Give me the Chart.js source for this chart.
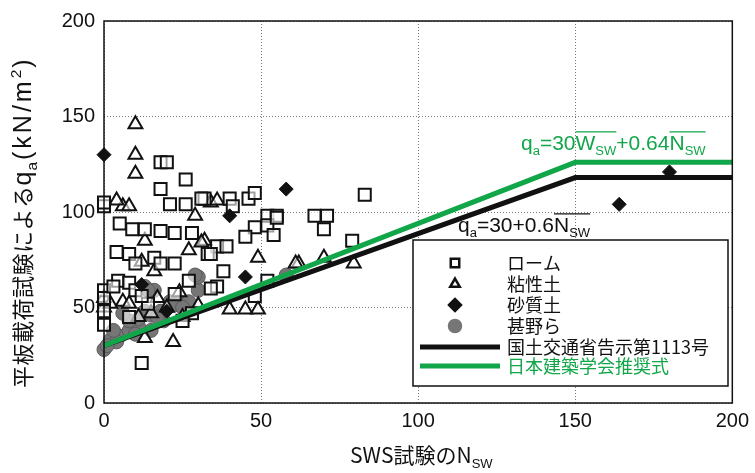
<!DOCTYPE html>
<html>
<head>
<meta charset="utf-8">
<script src="https://cdn.jsdelivr.net/npm/chart.js@4/dist/chart.umd.min.js"></script>
<style>
  body { margin: 0; background: #fff; }
</style>
</head>
<body>
<canvas id="swsChart" width="755" height="473"></canvas>
<script>
// ---- data ----
const xTicks = [0, 50, 100, 150, 200];
const yTicks = [0, 50, 100, 150, 200];

// ローム (open squares)
const loamX = [0, 0, 0, 0, 0, 0, 18, 20, 26, 18, 32, 21, 26, 31, 40, 41, 46, 48, 52, 55, 52, 83, 67, 71, 70, 54, 55, 79, 48, 45,
  36, 39, 33, 38, 36, 48, 52, 4, 8, 10, 4.5, 8, 10, 9, 13, 18, 22.5, 28, 16, 18, 22.5, 27, 34, 34, 22.5, 5, 12, 3, 14, 28, 25, 8, 12];
const loamY = [103, 105, 59, 55, 48, 41, 126, 126, 117, 112, 107, 104, 104, 107, 107, 103, 107, 110, 98, 98, 93, 109, 98, 98, 91, 88, 97, 85, 92, 87,
  82, 82, 78, 69, 61, 56, 64, 79, 78, 73, 64, 63, 59, 91, 91, 90, 89, 89, 76, 73, 73, 64, 60, 78, 57, 94, 21, 61, 52, 47, 43, 45, 56];

// 粘性土 (open triangles)
const clayX = [10, 10, 10, 6, 8, 4, 34, 36, 29, 62, 70, 79.5, 32, 49, 40, 45, 49, 61, 13, 31, 6, 8, 13, 22, 12, 0, 0, 2, 15, 20, 25, 30, 24, 17, 11, 16, 27];
const clayY = [146, 130, 120, 103, 103, 106, 105, 106, 98, 73, 76, 73, 85, 76, 49, 49, 49, 73, 85, 84, 53, 52, 34, 32, 74, 50, 55, 52, 47, 50, 45, 51, 58, 55, 45, 69, 80];

// 砂質土 (filled diamonds)
const sandX = [0, 40, 58, 180, 164, 45, 12, 20];
const sandY = [130, 98, 112, 121, 104, 66, 62, 48];

// 甚野ら (grey circles)
const jinnoX = [0, 2, 5, 8, 11, 15, 18, 21, 16, 13, 24, 27, 30, 30, 22, 19, 15, 11, 8, 6, 29, 14, 58, 13, 17, 25, 10, 4, 1, 3];
const jinnoY = [28, 33, 35, 38, 40, 46, 48, 53, 59, 61, 53, 53, 59, 66, 51, 43, 38, 44, 43, 47, 67, 59, 67, 48, 45, 50, 36, 32, 30, 38];

// design lines
const lineX = [0, 150, 200];
const kokujiY = [30, 118, 118];   // 国土交通省告示第1113号
const aijY = [30, 126, 126];      // 日本建築学会推奨式

const GREEN = '#12a64a';
const GREY = '#767676';
const NUM_FONT = '"Liberation Sans", Arial, sans-serif';
const JP_FONT = '"Noto Sans CJK JP", "Liberation Sans", sans-serif';

const pts = (xs, ys) => xs.map((x, i) => ({ x: x, y: ys[i] }));

// draw a run of text parts (sub = subscript, sup = superscript, over = overline)
function drawRich(ctx, x, y, parts, size, color) {
  ctx.save();
  ctx.fillStyle = color;
  ctx.strokeStyle = color;
  ctx.textBaseline = 'alphabetic';
  ctx.textAlign = 'left';
  let cx = x;
  let overStart = null;
  parts.forEach(function (p) {
    const base = p.size || size;
    const s = (p.sub || p.sup) ? base * 0.62 : base;
    ctx.font = s + 'px ' + (p.jp ? JP_FONT : NUM_FONT);
    const dy = p.sub ? base * 0.22 : (p.sup ? -base * 0.42 : 0);
    if (p.over && overStart === null) overStart = cx;
    const gap = p.gap || 0;
    for (const ch of p.t) {
      ctx.fillText(ch, cx, y + dy);
      cx += ctx.measureText(ch).width + gap;
    }
    if (p.endOver) {
      ctx.lineWidth = 1.2;
      ctx.beginPath();
      ctx.moveTo(overStart, y - size * 0.86);
      ctx.lineTo(cx, y - size * 0.86);
      ctx.stroke();
      overStart = null;
    }
  });
  ctx.restore();
  return cx;
}

const decorations = {
  id: 'decorations',
  beforeDraw(chart) {
    const ctx = chart.ctx;
    ctx.save();
    ctx.fillStyle = '#fff';
    ctx.fillRect(0, 0, chart.width, chart.height);
    ctx.restore();
  },
  afterDraw(chart) {
    const ctx = chart.ctx;
    const a = chart.chartArea;

    // plot frame
    ctx.save();
    ctx.strokeStyle = '#111';
    ctx.lineWidth = 1.5;
    ctx.strokeRect(a.left, a.top, a.right - a.left, a.bottom - a.top);
    ctx.restore();

    // formula labels
    drawRich(ctx, 521, 150, [
      { t: 'q' }, { t: 'a', sub: true }, { t: '=30' },
      { t: 'W', over: true }, { t: 'SW', sub: true, endOver: true },
      { t: '+0.64' },
      { t: 'N', over: true }, { t: 'SW', sub: true, endOver: true }
    ], 21, GREEN);
    drawRich(ctx, 458, 232, [
      { t: 'q' }, { t: 'a', sub: true }, { t: '=30+0.6' },
      { t: 'N', over: true }, { t: 'SW', sub: true, endOver: true }
    ], 21, '#111');

    // legend box
    const lx = 413, ly = 240, lw = 315, lh = 146;
    ctx.save();
    ctx.fillStyle = '#fff';
    ctx.fillRect(lx, ly, lw, lh);
    ctx.strokeStyle = '#111';
    ctx.lineWidth = 1.5;
    ctx.strokeRect(lx, ly, lw, lh);
    ctx.restore();

    const symX = 455, textX = 507;
    const rows = [
      { y: 263, style: 'rect', r: 6, fill: '#fff', stroke: '#111', label: 'ローム' },
      { y: 284, style: 'triangle', r: 5.5, fill: '#fff', stroke: '#111', label: '粘性土' },
      { y: 305, style: 'rectRot', r: 6, fill: '#111', stroke: '#111', label: '砂質土' },
      { y: 326, style: 'circle', r: 6, fill: GREY, stroke: GREY, label: '甚野ら' }
    ];
    rows.forEach(function (r) {
      ctx.save();
      ctx.fillStyle = r.fill;
      ctx.strokeStyle = r.stroke;
      ctx.lineWidth = 2.5;
      Chart.helpers.drawPoint(ctx, { pointStyle: r.style, radius: r.r, rotation: 0, borderWidth: 2.5 }, symX, r.y);
      ctx.restore();
    });
    const lineRows = [
      { y: 347, color: '#111', label: '国土交通省告示第1113号' },
      { y: 366, color: GREEN, label: '日本建築学会推奨式' }
    ];
    ctx.save();
    ctx.lineWidth = 5;
    lineRows.forEach(function (r) {
      ctx.strokeStyle = r.color;
      ctx.beginPath();
      ctx.moveTo(420, r.y);
      ctx.lineTo(500, r.y);
      ctx.stroke();
    });
    ctx.font = '18px ' + JP_FONT;
    ctx.textBaseline = 'middle';
    ctx.fillStyle = '#111';
    rows.forEach(function (r) { ctx.fillText(r.label, textX, r.y); });
    lineRows.forEach(function (r) {
      ctx.fillStyle = r.color;
      ctx.fillText(r.label, textX, r.y);
    });
    ctx.restore();

    // x axis title
    drawRich(ctx, 350, 463, [{ t: 'SWS試験のN', jp: true }, { t: 'SW', sub: true }], 21, '#111');

    // y axis title (rotated)
    ctx.save();
    ctx.translate(31, 388);
    ctx.rotate(-Math.PI / 2);
    drawRich(ctx, 0, 0, [
      { t: '平板載荷試験による', jp: true, size: 22, gap: 0.5 },
      { t: 'q', size: 25, gap: 1 },
      { t: 'a', sub: true, size: 25, gap: 2 },
      { t: '(kN/m', size: 25, gap: 3 },
      { t: '2', sup: true, size: 25, gap: 2 },
      { t: ')', size: 25 }
    ], 22, '#111');
    ctx.restore();
  }
};

const config = {
  type: 'scatter',
  data: {
    datasets: [
      {
        label: '日本建築学会推奨式',
        data: pts(lineX, aijY),
        showLine: true,
        borderColor: GREEN,
        borderWidth: 5,
        pointRadius: 0,
        fill: false
      },
      {
        label: '国土交通省告示第1113号',
        data: pts(lineX, kokujiY),
        showLine: true,
        borderColor: '#111',
        borderWidth: 5,
        pointRadius: 0,
        fill: false
      },
      {
        label: '砂質土',
        data: pts(sandX, sandY),
        clip: false,
        pointStyle: 'rectRot',
        pointRadius: 7,
        backgroundColor: '#111',
        borderColor: '#111',
        borderWidth: 1
      },
      {
        label: 'ローム',
        data: pts(loamX, loamY),
        clip: false,
        pointStyle: 'rect',
        pointRadius: 8.5,
        backgroundColor: 'rgba(255,255,255,0.6)',
        borderColor: '#111',
        borderWidth: 2
      },
      {
        label: '粘性土',
        data: pts(clayX, clayY),
        clip: false,
        pointStyle: 'triangle',
        pointRadius: 8,
        backgroundColor: 'rgba(255,255,255,0.6)',
        borderColor: '#111',
        borderWidth: 2
      },
      {
        label: '甚野ら',
        data: pts(jinnoX, jinnoY),
        clip: false,
        pointStyle: 'circle',
        pointRadius: 7,
        backgroundColor: GREY,
        borderColor: '#5a5a5a',
        borderWidth: 1
      }
    ]
  },
  options: {
    responsive: false,
    animation: false,
    events: [],
    layout: { padding: { left: 0, right: 20, top: 17, bottom: 0 } },
    plugins: {
      legend: { display: false },
      tooltip: { enabled: false }
    },
    scales: {
      x: {
        type: 'linear',
        min: 0,
        max: 200,
        afterFit: function (scale) { scale.height = 70; },
        afterBuildTicks: function (scale) { scale.ticks = xTicks.map(v => ({ value: v })); },
        ticks: {
          color: '#111',
          padding: 6,
          font: { family: NUM_FONT, size: 20 }
        },
        grid: { color: '#777', lineWidth: 1, drawTicks: false },
        border: { display: false, dash: [1, 2] }
      },
      y: {
        type: 'linear',
        min: 0,
        max: 200,
        afterFit: function (scale) { scale.width = 104; },
        afterBuildTicks: function (scale) { scale.ticks = yTicks.map(v => ({ value: v })); },
        ticks: {
          color: '#111',
          padding: 9,
          font: { family: NUM_FONT, size: 20 }
        },
        grid: { color: '#777', lineWidth: 1, drawTicks: false },
        border: { display: false, dash: [1, 2] }
      }
    }
  },
  plugins: [decorations]
};

new Chart(document.getElementById('swsChart'), config);
</script>
</body>
</html>
